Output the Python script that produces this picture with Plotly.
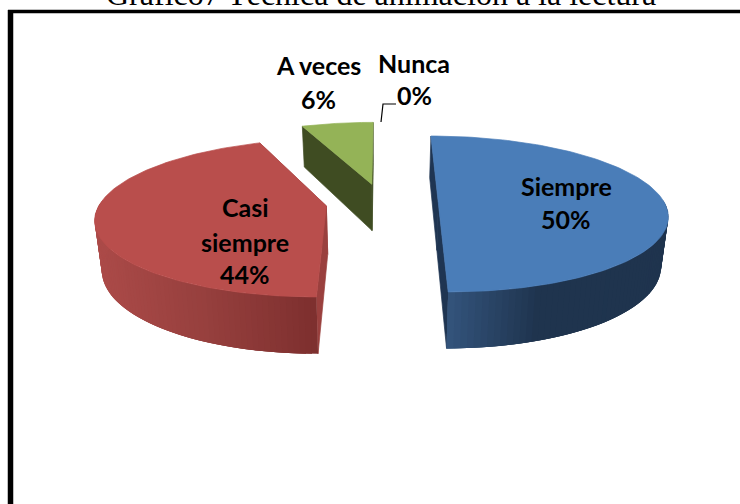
import numpy as np
import plotly.graph_objects as go

# --- chart data ---
categories = ["Siempre", "Casi siempre", "A veces", "Nunca"]
values = [50, 44, 6, 0]
title_text = "Gráfico7 Técnica de animación a la lectura"

top_colors = ["#4A7DB8", "#B94E4C", "#94B357", "#7D60A0"]
cut_colors = ["#1F3552", "#9A403E", "#3F4C22", "#3F3050"]
wall_stops = [
    [(0.0, "#1F344E"), (0.55, "#1F344E"), (1.0, "#35567F")],
    [(0.0, "#7E302F"), (0.5, "#97403E"), (1.0, "#AC4B49")],
    [(0.0, "#3F4C22"), (1.0, "#3F4C22")],
    [(0.0, "#3F3050"), (1.0, "#3F3050")],
]

# projection of the tilted disc onto the 740x504 canvas
X0, Y0, A, B, K, DEPTH, SHRINK, EXPLODE = 382, 202.3, 226, 76.2, 0.15, 48, 0.975, 0.249


def top_pt(u, v):
    w = 1 + K * v
    return X0 + A * u / w, Y0 - B * v / w


def bot_pt(u, v):
    w = 1 + K * v
    return X0 + SHRINK * A * u / w, Y0 + (DEPTH - B * v) / w


def hex_rgb(h):
    return np.array([int(h[i:i + 2], 16) for i in (1, 3, 5)], float)


def lerp(stops, t):
    for (t0, c0), (t1, c1) in zip(stops, stops[1:]):
        if t <= t1:
            f = 0 if t1 == t0 else (t - t0) / (t1 - t0)
            c = hex_rgb(c0) * (1 - f) + hex_rgb(c1) * f
            return "rgb(%d,%d,%d)" % tuple(c)
    return stops[-1][1]


def poly(xs, ys, color, lw=0.7):
    return go.Scatter(x=list(xs), y=list(ys), mode="lines", fill="toself", fillcolor=color,
                      line=dict(color=color, width=lw), hoverinfo="skip", showlegend=False)


fig = go.Figure()
total = sum(values)
start = 0.0
for i, val in enumerate(values):
    if val == 0:
        continue
    a0 = start * 2 * np.pi / total
    a1 = (start + val) * 2 * np.pi / total
    start += val
    mid = (a0 + a1) / 2
    cu, cv = EXPLODE * np.sin(mid), EXPLODE * np.cos(mid)
    th = np.linspace(a0, a1, 121)
    us, vs = cu + np.sin(th), cv + np.cos(th)

    # flat cut faces
    for ang in (a0, a1):
        eu, ev = cu + np.sin(ang), cv + np.cos(ang)
        p = [top_pt(cu, cv), top_pt(eu, ev), bot_pt(eu, ev), bot_pt(cu, cv)]
        fig.add_trace(poly([q[0] for q in p] + [p[0][0]], [q[1] for q in p] + [p[0][1]], cut_colors[i]))

    # curved outer wall, only where it faces the viewer; strips overlap to hide seams
    n = len(th)
    for j in range(0, n - 1):
        if np.cos(th[j]) > 0.02 and np.cos(th[min(j + 1, n - 1)]) > 0.02:
            continue
        k = min(j + 3, n - 1)
        seg = range(j, k + 1)
        top = [top_pt(us[s], vs[s]) for s in seg]
        bot = [bot_pt(us[s], vs[s]) for s in seg][::-1]
        p = top + bot
        xm = top[0][0]
        t = (xm - 95) / (317 - 95) if i == 1 else 1 - (xm - 447) / (661 - 447)
        col = lerp(wall_stops[i], float(np.clip(1 - t if i == 1 else t, 0, 1)))
        fig.add_trace(poly([q[0] for q in p] + [p[0][0]], [q[1] for q in p] + [p[0][1]], col, lw=0))

    # top face
    tx, ty = zip(*[top_pt(u, v) for u, v in zip(us, vs)])
    ax, ay = top_pt(cu, cv)
    fig.add_trace(poly([ax, *tx, ax], [ay, *ty, ay], top_colors[i]))

# leader line for the zero-valued slice
fig.add_trace(go.Scatter(x=[381, 383, 396], y=[122, 104, 104], mode="lines",
                         line=dict(color="#000000", width=1.2), hoverinfo="skip", showlegend=False))

pct = [f"{round(100 * v / total)}%" for v in values]
label_lines = [
    ([categories[0], pct[0]], 566, [186, 219]),
    (["Casi", "siempre", pct[1]], 245, [207, 242, 274]),
    ([categories[2], pct[2]], 318, [65, 99]),
    ([categories[3], pct[3]], 414, [63, 95]),
]
annotations = []
for lines, x, ys in label_lines:
    for txt, y in zip(lines, ys):
        annotations.append(dict(x=x, y=y, xref="x", yref="y", text=f"<b>{txt}</b>", showarrow=False,
                                font=dict(family="Lato", size=25, color="#000000")))
annotations.append(dict(x=381 / 740, y=1 + 26 / 504, xref="paper", yref="paper", yanchor="top",
                        text=title_text, showarrow=False,
                        font=dict(family="Liberation Serif", size=32, color="#000000")))

fig.update_layout(
    width=740, height=504, margin=dict(l=0, r=0, t=0, b=0),
    paper_bgcolor="#FFFFFF", plot_bgcolor="#FFFFFF",
    xaxis=dict(range=[0, 740], visible=False, fixedrange=True),
    yaxis=dict(range=[504, 0], visible=False, fixedrange=True),
    annotations=annotations,
    shapes=[
        dict(type="line", xref="x", yref="y", x0=10.5, x1=10.5, y0=10, y1=504, line=dict(color="#000", width=5.5)),
        dict(type="line", xref="x", yref="y", x0=8, x1=740, y0=11.5, y1=11.5, line=dict(color="#000", width=3.5)),
    ],
)
fig.write_html("out.html", config={"displayModeBar": False},
               post_script="document.body.style.margin='0';document.body.style.overflow='hidden';")
